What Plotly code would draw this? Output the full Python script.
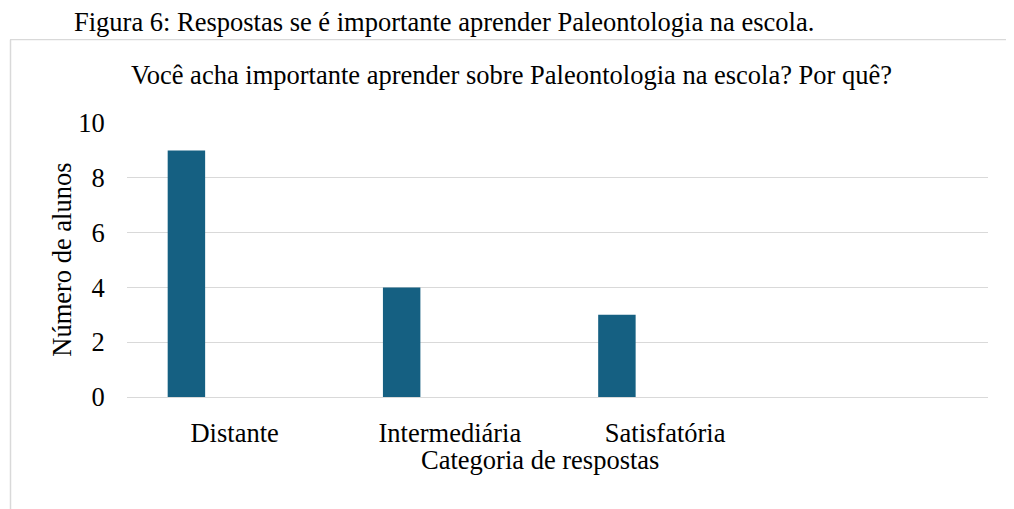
import plotly.graph_objects as go

categories = ["Distante", "Intermediária", "Satisfatória"]
values = [9, 4, 3]
y_ticks = [0, 2, 4, 6, 8, 10]

caption = "Figura 6: Respostas se é importante aprender Paleontologia na escola."
title = "Você acha importante aprender sobre Paleontologia na escola? Por quê?"
x_title = "Categoria de respostas"
y_title = "Número de alunos"

# page offset of the figure inside the browser body
OFF = 8
W, H = 1014, 509
# plot area in reference-page pixels
PL, PR, PT, PB = 127, 988, 123, 397.5
L, R, T, B = PL - OFF, W - (PR - OFF), PT - OFF, H - (PB - OFF)
pw, ph = W - L - R, H - T - B

def px(x):
    return (x - OFF - L) / pw

def py(y):
    return (H - B - (y - OFF)) / ph

FONT = "Liberation Serif, Times New Roman, serif"
FS = 26.5
GRID = "#d9d9d9"

fig = go.Figure()
fig.add_trace(go.Bar(
    x=list(range(len(categories))),
    y=values,
    width=0.174,
    offset=-0.311,
    marker=dict(color="#156082", line=dict(width=0)),
    hoverinfo="skip",
))

fig.update_layout(
    width=W, height=H,
    margin=dict(l=L, r=R, t=T, b=B, pad=0),
    paper_bgcolor="white", plot_bgcolor="white",
    showlegend=False,
    font=dict(family=FONT, size=FS, color="#000000"),
    xaxis=dict(
        range=[-0.5, 3.5],
        tickvals=list(range(len(categories))),
        ticktext=categories,
        showgrid=False, zeroline=False,
        showline=True, linecolor=GRID, linewidth=1.3,
        ticks="outside", ticklen=12, tickcolor="rgba(0,0,0,0)",
        tickfont=dict(family=FONT, size=FS, color="#000000"),
        fixedrange=True,
    ),
    yaxis=dict(
        range=[0, 10],
        tickvals=y_ticks,
        showgrid=True, gridcolor=GRID, gridwidth=1.2,
        zeroline=False, showline=False,
        ticks="outside", ticklen=16, tickcolor="rgba(0,0,0,0)",
        tickfont=dict(family=FONT, size=FS, color="#000000"),
        fixedrange=True,
    ),
    shapes=[
        dict(type="line", xref="paper", yref="paper",
             x0=px(10), x1=px(W + 20), y0=py(39.5), y1=py(39.5),
             line=dict(color=GRID, width=1.2)),
        dict(type="line", xref="paper", yref="paper",
             x0=px(10.5), x1=px(10.5), y0=py(39.5), y1=py(H + 20),
             line=dict(color=GRID, width=1.5)),
    ],
    annotations=[
        dict(text=caption, xref="paper", yref="paper", x=px(72), y=py(22),
             xanchor="left", yanchor="middle", showarrow=False,
             font=dict(family=FONT, size=FS, color="#000000")),
        dict(text=title, xref="paper", yref="paper", x=px(511), y=py(75),
             xanchor="center", yanchor="middle", showarrow=False,
             font=dict(family=FONT, size=FS, color="#000000")),
        dict(text=x_title, xref="paper", yref="paper", x=px(540), y=py(461),
             xanchor="center", yanchor="middle", showarrow=False,
             font=dict(family=FONT, size=FS, color="#000000")),
        dict(text=y_title, xref="paper", yref="paper", x=px(62), y=py(260),
             xanchor="center", yanchor="middle", showarrow=False, textangle=-90,
             font=dict(family=FONT, size=FS, color="#000000")),
    ],
)

fig.write_html("out.html", config={"displayModeBar": False})
